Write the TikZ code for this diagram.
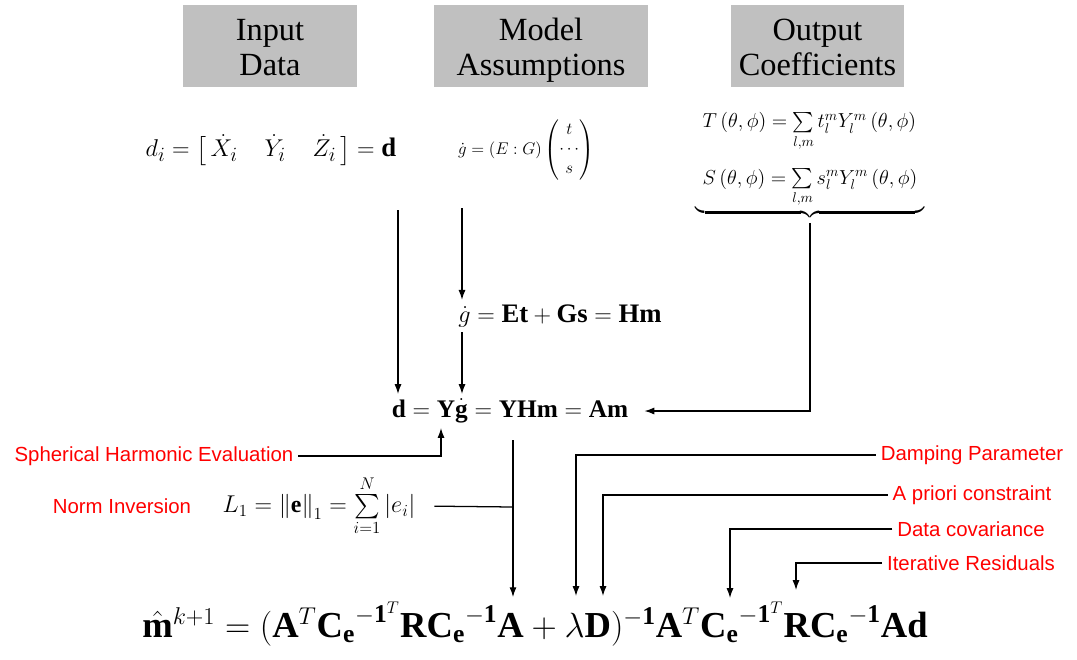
\documentclass[tikz,border=0pt]{standalone}
\usepackage{amsmath}
\usepackage{fontspec}
\setmainfont{Liberation Serif}
\newfontfamily\labelfont{Liberation Sans}
\usetikzlibrary{arrows.meta}
\definecolor{boxgray}{RGB}{192,192,192}
\definecolor{labelred}{RGB}{255,0,0}
\newcommand{\highstrut}{\rule{0pt}{24.5pt}}

\tikzset{
  headbox/.style={fill=boxgray, minimum height=2.05cm, align=center, inner sep=0pt,
    font=\fontsize{23}{25}\selectfont},
  redlabel/.style={text=labelred, font=\labelfont\fontsize{14.5}{16}\selectfont},
  flow/.style={line width=0.9pt, -{Latex[length=7pt,width=5pt]}},
  plain/.style={line width=0.9pt}
}

\begin{document}
\begin{tikzpicture}[x=0.025cm, y=-0.025cm]
  \useasboundingbox (0,0) rectangle (1077,659);

  % Header boxes
  \node[headbox, minimum width=4.35cm] (input) at (270,46) {\highstrut Input\\Data\strut};
  \node[headbox, minimum width=5.35cm] (assume) at (541,46) {\highstrut Model\\Assumptions\strut};
  \node[headbox, minimum width=4.33cm] (output) at (817.5,46) {\highstrut Output\\Coefficients\strut};

  % Input, model and output equations
  \node (dvec) at (271,150) {\fontsize{19}{21}\selectfont
    $d_i = \left[\,\dot{X}_i \quad \dot{Y}_i \quad \dot{Z}_i\,\right] = \mathbf{d}$};
  \node (gvec) at (526,150) {\fontsize{12.5}{14}\selectfont
    $\dot g = \left(E:G\right)\begin{pmatrix} t\\ \cdots\\ s\end{pmatrix}$};
  \node (coef) at (810,165) {\fontsize{14.5}{16}\selectfont
    $\underbrace{\begin{array}{l}
      T\left(\theta,\phi\right) = \sum\limits_{l,m} t_l^m Y_l^m\left(\theta,\phi\right)\\[24pt]
      S\left(\theta,\phi\right) = \sum\limits_{l,m} s_l^m Y_l^m\left(\theta,\phi\right)
    \end{array}}$};

  % Forward model
  \node (gmodel) at (560,316) {\fontsize{19}{21}\selectfont
    $\dot g = \mathbf{Et} + \mathbf{Gs} = \mathbf{Hm}$};
  \node (dmodel) at (510,411) {\fontsize{18}{20}\selectfont
    $\mathbf{d} = \mathbf{Y}\dot{\mathbf{g}} = \mathbf{YHm} = \mathbf{Am}$};
  \node (norm) at (319,506) {\fontsize{17}{19}\selectfont
    $L_1 = \left\|\mathbf{e}\right\|_1 = \sum\limits_{i=1}^{N}\left|e_i\right|$};

  % Inverse solution
  \node (solution) at (535,624) {\fontsize{26}{30}\selectfont
    $\hat{\mathbf{m}}^{k+1} = (\mathbf{A}^T{\mathbf{C}_{\mathbf{e}}}^{-\mathbf{1}^T}
    \mathbf{R}{\mathbf{C}_{\mathbf{e}}}^{-\mathbf{1}}\mathbf{A} + \lambda\mathbf{D})^{-\mathbf{1}}
    \mathbf{A}^T{\mathbf{C}_{\mathbf{e}}}^{-\mathbf{1}^T}\mathbf{R}{\mathbf{C}_{\mathbf{e}}}^{-\mathbf{1}}\mathbf{Ad}$};

  % Red annotations
  \node[redlabel] (sphlab) at (154,456) {Spherical Harmonic Evaluation};
  \node[redlabel] (normlab) at (122,506) {Norm Inversion};
  \node[redlabel] (damplab) at (972,455) {Damping Parameter};
  \node[redlabel] (apriolab) at (972,495) {A priori constraint};
  \node[redlabel] (covlab) at (971,529) {Data covariance};
  \node[redlabel] (residlab) at (971,563) {Iterative Residuals};

  % Arrow end points
  \coordinate (dfoot) at (398,210);
  \coordinate (gfoot) at (462,208);
  \coordinate (sphend) at (441,428);
  \coordinate (normtop) at (513,440);
  \coordinate (normjoin) at (513,507);
  \coordinate (lamtip) at (576,596);
  \coordinate (dtip) at (603,596);
  \coordinate (covtip) at (730,598);
  \coordinate (residtip) at (796,590);

  % Flow of the model
  \draw[flow] (dfoot) -- (dfoot |- dmodel.north);
  \draw[flow] (gfoot) -- (gfoot |- gmodel.north);
  \draw[flow] (gfoot |- gmodel.south) -- (gfoot |- dmodel.north);
  \draw[flow, shorten >=8pt] (coef.south) |- (dmodel.east);
  \draw[flow] (sphlab.east) -| (sphend);
  \draw[flow] (normtop) -- (normtop |- solution.north);
  \draw[plain, shorten <=10pt] (norm.east) -- (normjoin);

  % Annotation leaders into the solution
  \draw[flow] (damplab.west) -| (lamtip);
  \draw[flow] (apriolab.west) -| (dtip);
  \draw[flow] (covlab.west) -| (covtip);
  \draw[flow] (residlab.west) -| (residtip);
\end{tikzpicture}
\end{document}
